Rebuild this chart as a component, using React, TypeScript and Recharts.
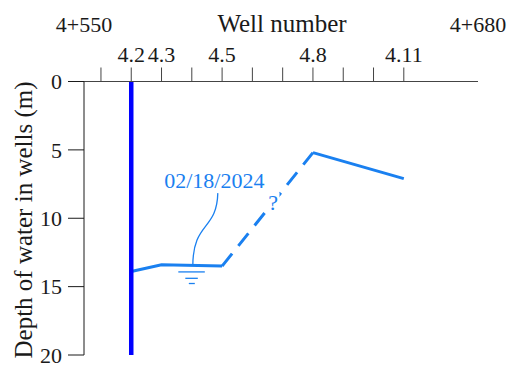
import { LineChart, Line, XAxis, YAxis, ReferenceLine, ReferenceDot } from 'recharts';

// Wells along the section, their chainage (m past 4+000) and measured water depth (m)
const wellNames = ['4.2', '4.3', '4.5', '4.8', '4.11'];
const wellChainage = [570, 580, 600, 630, 660];
const waterDepth = [13.9, 13.4, 13.5, 5.2, 7.1];
// true where the water table between two wells is only inferred
const inferredSegment = [false, false, true, false];

const chainageTicks = [560, 570, 580, 590, 600, 610, 620, 630, 640, 650, 660];
const depthTicks = [0, 5, 10, 15, 20];

const sectionStart = '4+550';
const sectionEnd = '4+680';
const surveyDate = '02/18/2024';
const surveyMarkChainage = 590;
const surveyMarkDepth = 13.5;
const casingDepth = 20;

const INK = '#1a1a1a';
const WATER = '#1a80f0';
const CASING = '#0000ff';
const FONT = 'Times New Roman';

// split the profile into runs of solid / dashed segments, one series each
type Run = { key: string; dashed: boolean; from: number; to: number };
const runs: Run[] = [];
inferredSegment.forEach((dashed, i) => {
  const last = runs[runs.length - 1];
  if (last && last.dashed === dashed) last.to = i + 1;
  else runs.push({ key: `run${runs.length}`, dashed, from: i, to: i + 1 });
});

const rows = wellChainage.map((chainage, i) => {
  const row: Record<string, number | null> = { chainage };
  runs.forEach((r) => {
    row[r.key] = i >= r.from && i <= r.to ? waterDepth[i] : null;
  });
  return row;
});

const WellTick = (props: any) => {
  const { x, y, payload } = props;
  const idx = wellChainage.indexOf(payload.value);
  if (idx < 0) return <g />;
  return (
    <text x={x} y={y} textAnchor="middle" fontSize={22} fill={INK} fontFamily={FONT}>
      {wellNames[idx]}
    </text>
  );
};

const DepthTick = (props: any) => {
  const { x, y, payload } = props;
  return (
    <text x={x} y={y} dy="0.35em" textAnchor="end" fontSize={22} fill={INK} fontFamily={FONT}>
      {payload.value}
    </text>
  );
};

// water-table symbol with the dated leader
const SurveyMark = (props: any) => {
  const { cx, cy } = props;
  return (
    <g stroke={WATER} fill="none">
      <path d={`M${cx + 26},${cy - 73} C${cx + 25},${cy - 35} ${cx + 1},${cy - 45} ${cx + 1},${cy}`} strokeWidth={1.3} />
      <line x1={cx - 13.5} x2={cx + 13} y1={cy + 5.8} y2={cy + 5.8} strokeWidth={1.3} />
      <line x1={cx - 6.5} x2={cx + 6} y1={cy + 12.2} y2={cy + 12.2} strokeWidth={1.3} />
      <line x1={cx - 3} x2={cx + 3} y1={cy + 17.4} y2={cy + 17.4} strokeWidth={1.3} />
      <text x={cx + 22.5} y={cy - 78} textAnchor="middle" fontSize={22} fill={WATER} stroke="none" fontFamily={FONT}>
        {surveyDate}
      </text>
    </g>
  );
};

// question mark on the inferred stretch, blanking the dash beneath it
const QueryMark = (props: any) => {
  const { cx, cy } = props;
  return (
    <g>
      <rect x={cx - 1} y={cy - 17} width={13} height={19} fill="#fff" />
      <text x={cx + 5.6} y={cy + 0.8} textAnchor="middle" fontSize={22} fill={WATER} fontFamily={FONT}>
        ?
      </text>
    </g>
  );
};

const dashedRun = runs.find((r) => r.dashed);
const queryX = dashedRun ? (wellChainage[dashedRun.from] + wellChainage[dashedRun.to]) / 2 : 0;
const queryY = dashedRun ? (waterDepth[dashedRun.from] + waterDepth[dashedRun.to]) / 2 : 0;

export default function App() {
  return (
    <div style={{ width: 515, height: 365, margin: '-8px 0 0 -8px', fontFamily: FONT }}>
      <LineChart
        width={515}
        height={365}
        data={rows}
        margin={{ top: 41.5, right: 37, bottom: 10, left: 24 }}
      >
        <XAxis
          type="number"
          dataKey="chainage"
          orientation="top"
          domain={[554.4, 684.5]}
          ticks={chainageTicks}
          interval={0}
          allowDataOverflow
          height={40}
          tickSize={14}
          tickMargin={6}
          axisLine={{ stroke: '#444' }}
          tickLine={{ stroke: '#444' }}
          tick={<WellTick />}
        />
        <YAxis
          type="number"
          domain={[0, 20]}
          reversed
          ticks={depthTicks}
          interval={0}
          width={60}
          tickSize={16}
          tickMargin={6}
          axisLine={{ stroke: INK }}
          tickLine={{ stroke: INK }}
          tick={<DepthTick />}
        />
        {runs.map((r) => (
          <Line
            key={r.key}
            type="linear"
            dataKey={r.key}
            stroke={WATER}
            strokeWidth={3}
            strokeDasharray={r.dashed ? '16 10' : undefined}
            strokeLinejoin="miter"
            dot={false}
            activeDot={false}
            connectNulls={false}
            isAnimationActive={false}
          />
        ))}
        <ReferenceLine
          segment={[
            { x: wellChainage[0], y: 0 },
            { x: wellChainage[0], y: casingDepth },
          ]}
          stroke={CASING}
          strokeWidth={4.5}
        />
        <ReferenceDot x={surveyMarkChainage} y={surveyMarkDepth} r={0} shape={<SurveyMark />} />
        <ReferenceDot x={queryX} y={queryY} r={0} shape={<QueryMark />} />
        <text x={84} y={32} textAnchor="middle" fontSize={22} fill={INK} fontFamily={FONT}>{sectionStart}</text>
        <text x={282} y={32} textAnchor="middle" fontSize={25} fill={INK} fontFamily={FONT}>Well number</text>
        <text x={478} y={32} textAnchor="middle" fontSize={22} fill={INK} fontFamily={FONT}>{sectionEnd}</text>
        <text transform="rotate(-90)" x={-220} y={32} textAnchor="middle" fontSize={25} fill={INK} fontFamily={FONT}>
          Depth of water in wells (m)
        </text>
      </LineChart>
    </div>
  );
}
